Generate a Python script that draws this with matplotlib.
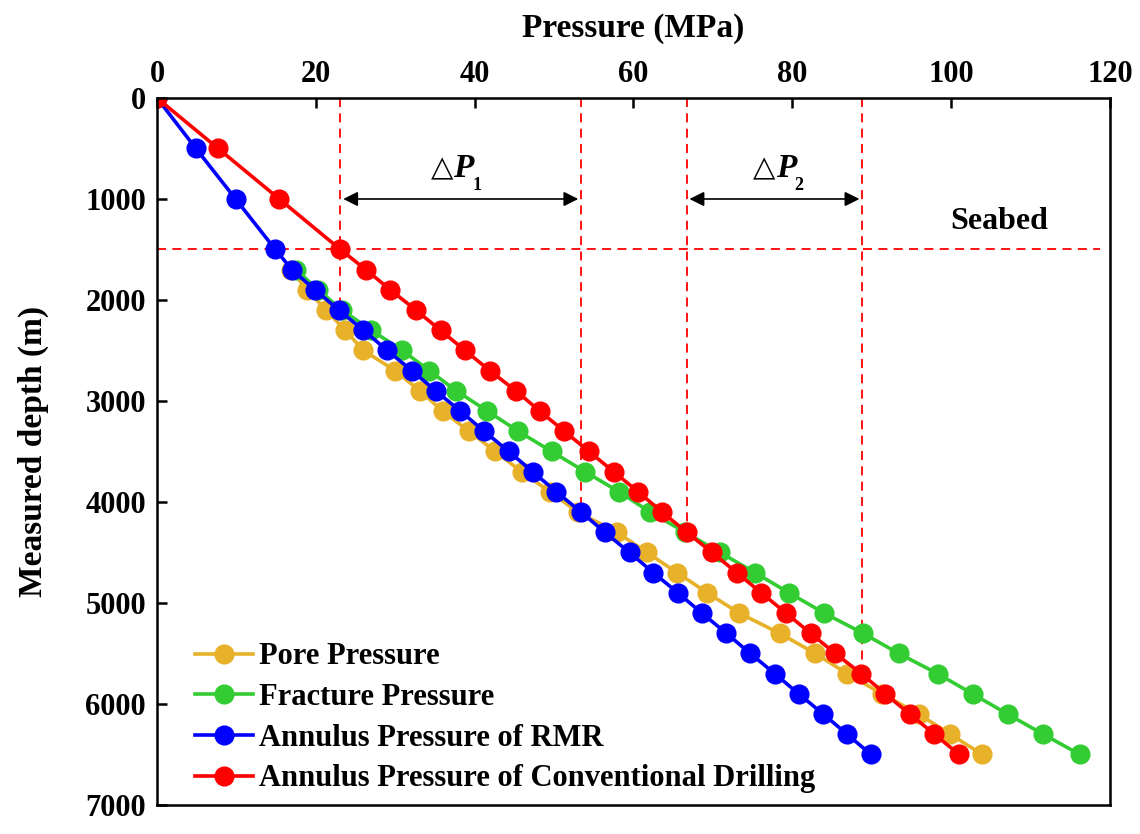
import matplotlib.pyplot as plt

plt.rcParams['font.family'] = ['Liberation Serif', 'DejaVu Serif']
plt.rcParams['font.weight'] = 'bold'

# depth (m)
depth_annulus = [0, 500, 1000, 1500, 1700, 1900, 2100, 2300, 2500, 2700, 2900,
                 3100, 3300, 3500, 3700, 3900, 4100, 4300, 4500, 4700, 4900,
                 5100, 5300, 5500, 5700, 5900, 6100, 6300, 6500]
depth_formation = [1700, 1900, 2100, 2300, 2500, 2700, 2900, 3100, 3300, 3500,
                   3700, 3900, 4100, 4300, 4500, 4700, 4900, 5100, 5300, 5500,
                   5700, 5900, 6100, 6300, 6500]

# pressure (MPa)
pore = [16.9, 18.9, 21.3, 23.7, 26.0, 30.0, 33.1, 36.0, 39.3, 42.6, 45.9, 49.5,
        53.0, 57.9, 61.7, 65.5, 69.3, 73.3, 78.4, 82.9, 86.9, 91.3, 95.9, 99.9,
        103.9]
fracture = [17.5, 20.3, 23.3, 27.0, 30.9, 34.3, 37.7, 41.6, 45.5, 49.7, 53.9,
            58.2, 62.1, 66.5, 70.9, 75.3, 79.6, 84.0, 88.9, 93.4, 98.3, 102.7,
            107.1, 111.6, 116.2]
rmr = [0, 4.9, 9.9, 14.9, 17.0, 19.9, 22.9, 26.0, 29.0, 32.1, 35.1, 38.2, 41.2,
       44.3, 47.3, 50.3, 53.4, 56.4, 59.5, 62.5, 65.6, 68.6, 71.7, 74.7, 77.8,
       80.8, 83.9, 86.9, 89.9]
conventional = [0, 7.7, 15.4, 23.1, 26.3, 29.4, 32.6, 35.7, 38.8, 41.9, 45.2,
                48.2, 51.3, 54.4, 57.5, 60.6, 63.6, 66.7, 69.9, 73.0, 76.1, 79.2,
                82.3, 85.4, 88.7, 91.7, 94.8, 97.9, 101.0]

seabed = 1500
# guide lines: (pressure, bottom depth)
guides = [(23.1, 2100), (53.4, 4100), (66.7, 4300), (88.8, 5700)]

fig = plt.figure(figsize=(11.4, 8.34), dpi=100)
ax = fig.add_axes([0.1377, 0.0348, 0.8360, 0.8477])

ms = 13.5
lw = 2.6
ax.plot(pore, depth_formation, '-o', color='#E8B12A', ms=ms, lw=lw, label='Pore Pressure')
ax.plot(fracture, depth_formation, '-o', color='#33CC33', ms=ms, lw=lw, label='Fracture Pressure')
ax.plot(rmr, depth_annulus, '-o', color='#0000FF', ms=ms, lw=lw, label='Annulus Pressure of RMR')
ax.plot(conventional, depth_annulus, '-o', color='#FF0000', ms=ms, lw=lw,
        label='Annulus Pressure of Conventional Drilling')

dash = (0, (5, 3.5))
ax.axhline(seabed, xmax=0.99, color='#FF0000', lw=1.3, ls=dash, zorder=1)
for x, d in guides:
    ax.plot([x, x], [0, d], color='#FF0000', lw=1.3, ls=dash, zorder=1)

# delta P arrows
arrow = dict(arrowstyle='<|-|>', color='black', lw=1.2, mutation_scale=22)
ax.annotate('', xy=(guides[0][0], 1000), xytext=(guides[1][0], 1000), arrowprops=arrow)
ax.annotate('', xy=(guides[2][0], 1000), xytext=(guides[3][0], 1000), arrowprops=arrow)

for xp, sub in [(37.3, '1'), (77.9, '2')]:
    ax.text(xp, 780, '\u25b3', fontsize=21, fontweight='normal', ha='right', va='baseline',
            family=['DejaVu Sans'])
    ax.text(xp, 780, 'P', fontsize=24, fontweight='bold', fontstyle='italic',
            ha='left', va='baseline')
    ax.text(xp + 2.4, 910, sub, fontsize=13, fontweight='bold', ha='left', va='baseline')

ax.text(106, 1300, 'Seabed', fontsize=23, fontweight='bold', ha='center', va='baseline')

ax.set_xlim(0, 120)
ax.set_ylim(7000, 0)
ax.set_xticks(range(0, 121, 20))
ax.set_yticks(range(0, 7001, 1000))
ax.xaxis.tick_top()
ax.xaxis.set_label_position('top')
ax.tick_params(direction='in', length=7, width=1.8, labelsize=22, pad=8)
ax.tick_params(axis='x', pad=6.5)
for s in ax.spines.values():
    s.set_linewidth(1.8)
for lab in ax.get_xticklabels() + ax.get_yticklabels():
    lab.set_fontweight('bold')

ax.set_xlabel('Pressure (MPa)', fontsize=24, fontweight='bold', labelpad=17)
ax.set_ylabel('Measured depth (m)', fontsize=24, fontweight='bold', labelpad=26)

ax.legend(loc='lower left', bbox_to_anchor=(0.024, -0.005), frameon=False,
          prop={'size': 22, 'weight': 'bold'}, handlelength=1.9, handletextpad=0.2,
          labelspacing=0.38, borderaxespad=0.1)

fig.savefig('out.png', dpi=100)
